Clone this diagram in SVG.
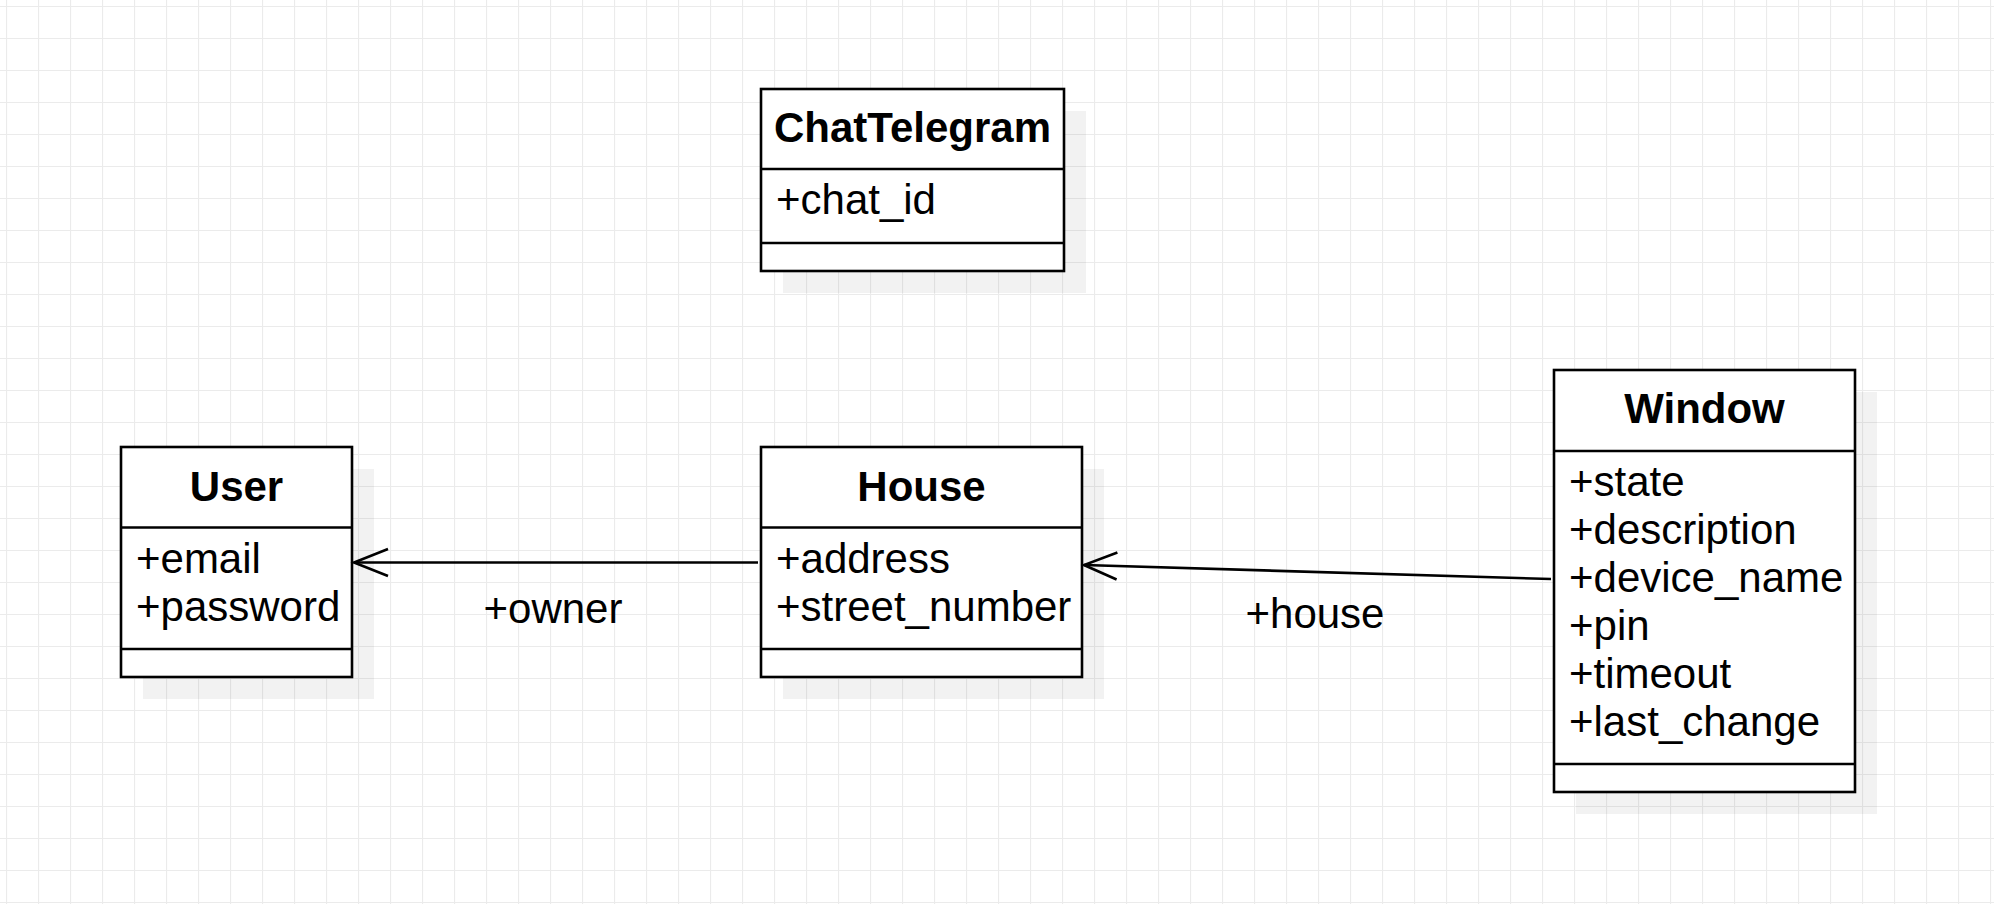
<svg xmlns="http://www.w3.org/2000/svg" width="1994" height="904" viewBox="0 0 1994 904">
  <defs>
    <pattern id="grid" x="6" y="6" width="32" height="32" patternUnits="userSpaceOnUse">
      <path d="M0 0.5H32M0.5 0V32" fill="none" stroke="#ebebeb" stroke-width="1.2"/>
    </pattern>
    <style>
      .box { fill: #ffffff; stroke: #000000; stroke-width: 2.6; }
      .sep { stroke: #000000; stroke-width: 2.6; fill: none; }
      .shadow { fill: #000000; fill-opacity: 0.05; }
      .title { font-family: "Liberation Sans", Arial, sans-serif; font-size: 42px; font-weight: bold; text-anchor: middle; fill: #000; }
      .attr { font-family: "Liberation Sans", Arial, sans-serif; font-size: 42px; fill: #000; }
      .lbl { font-family: "Liberation Sans", Arial, sans-serif; font-size: 42px; fill: #000; text-anchor: middle; }
      .edge { stroke: #000000; stroke-width: 2.6; fill: none; }
    </style>
  </defs>
  <rect width="1994" height="904" fill="#ffffff"/>
  <rect width="1994" height="904" fill="url(#grid)"/>

  <g id="ChatTelegram">
    <rect class="shadow" x="783" y="111" width="303" height="182"/>
    <rect class="box" x="761" y="89" width="303" height="182"/>
    <line class="sep" x1="761" y1="169" x2="1064" y2="169"/>
    <line class="sep" x1="761" y1="243" x2="1064" y2="243"/>
    <text class="title" x="912.5" y="142">ChatTelegram</text>
    <text class="attr" x="776" y="214">+chat_id</text>
  </g>

  <g id="User">
    <rect class="shadow" x="143" y="469" width="231" height="230"/>
    <rect class="box" x="121" y="447" width="231" height="230"/>
    <line class="sep" x1="121" y1="527.5" x2="352" y2="527.5"/>
    <line class="sep" x1="121" y1="649" x2="352" y2="649"/>
    <text class="title" x="236.5" y="501">User</text>
    <text class="attr" x="136" y="573">+email</text>
    <text class="attr" x="136" y="621">+password</text>
  </g>

  <g id="House">
    <rect class="shadow" x="783" y="469" width="321" height="230"/>
    <rect class="box" x="761" y="447" width="321" height="230"/>
    <line class="sep" x1="761" y1="527.5" x2="1082" y2="527.5"/>
    <line class="sep" x1="761" y1="649" x2="1082" y2="649"/>
    <text class="title" x="921.5" y="501">House</text>
    <text class="attr" x="776" y="573">+address</text>
    <text class="attr" x="776" y="621">+street_number</text>
  </g>

  <g id="Window">
    <rect class="shadow" x="1576" y="392" width="301" height="422"/>
    <rect class="box" x="1554" y="370" width="301" height="422"/>
    <line class="sep" x1="1554" y1="451" x2="1855" y2="451"/>
    <line class="sep" x1="1554" y1="764" x2="1855" y2="764"/>
    <text class="title" x="1704.5" y="423">Window</text>
    <text class="attr" x="1569" y="496">+state</text>
    <text class="attr" x="1569" y="544">+description</text>
    <text class="attr" x="1569" y="592">+device_name</text>
    <text class="attr" x="1569" y="640">+pin</text>
    <text class="attr" x="1569" y="688">+timeout</text>
    <text class="attr" x="1569" y="736">+last_change</text>
  </g>

  <g id="connectors">
    <g id="edge-house-user">
      <line class="edge" x1="758" y1="562.5" x2="354" y2="562.5"/>
      <polyline class="edge" points="388,549 354,562.5 388,576"/>
      <text class="lbl" x="553" y="623">+owner</text>
    </g>
    <g id="edge-window-house">
      <line class="edge" x1="1551" y1="579" x2="1084" y2="565"/>
      <polyline class="edge" points="1117.4,552.5 1084,565 1116.6,579.5"/>
      <text class="lbl" x="1315" y="628">+house</text>
    </g>
  </g>
</svg>
